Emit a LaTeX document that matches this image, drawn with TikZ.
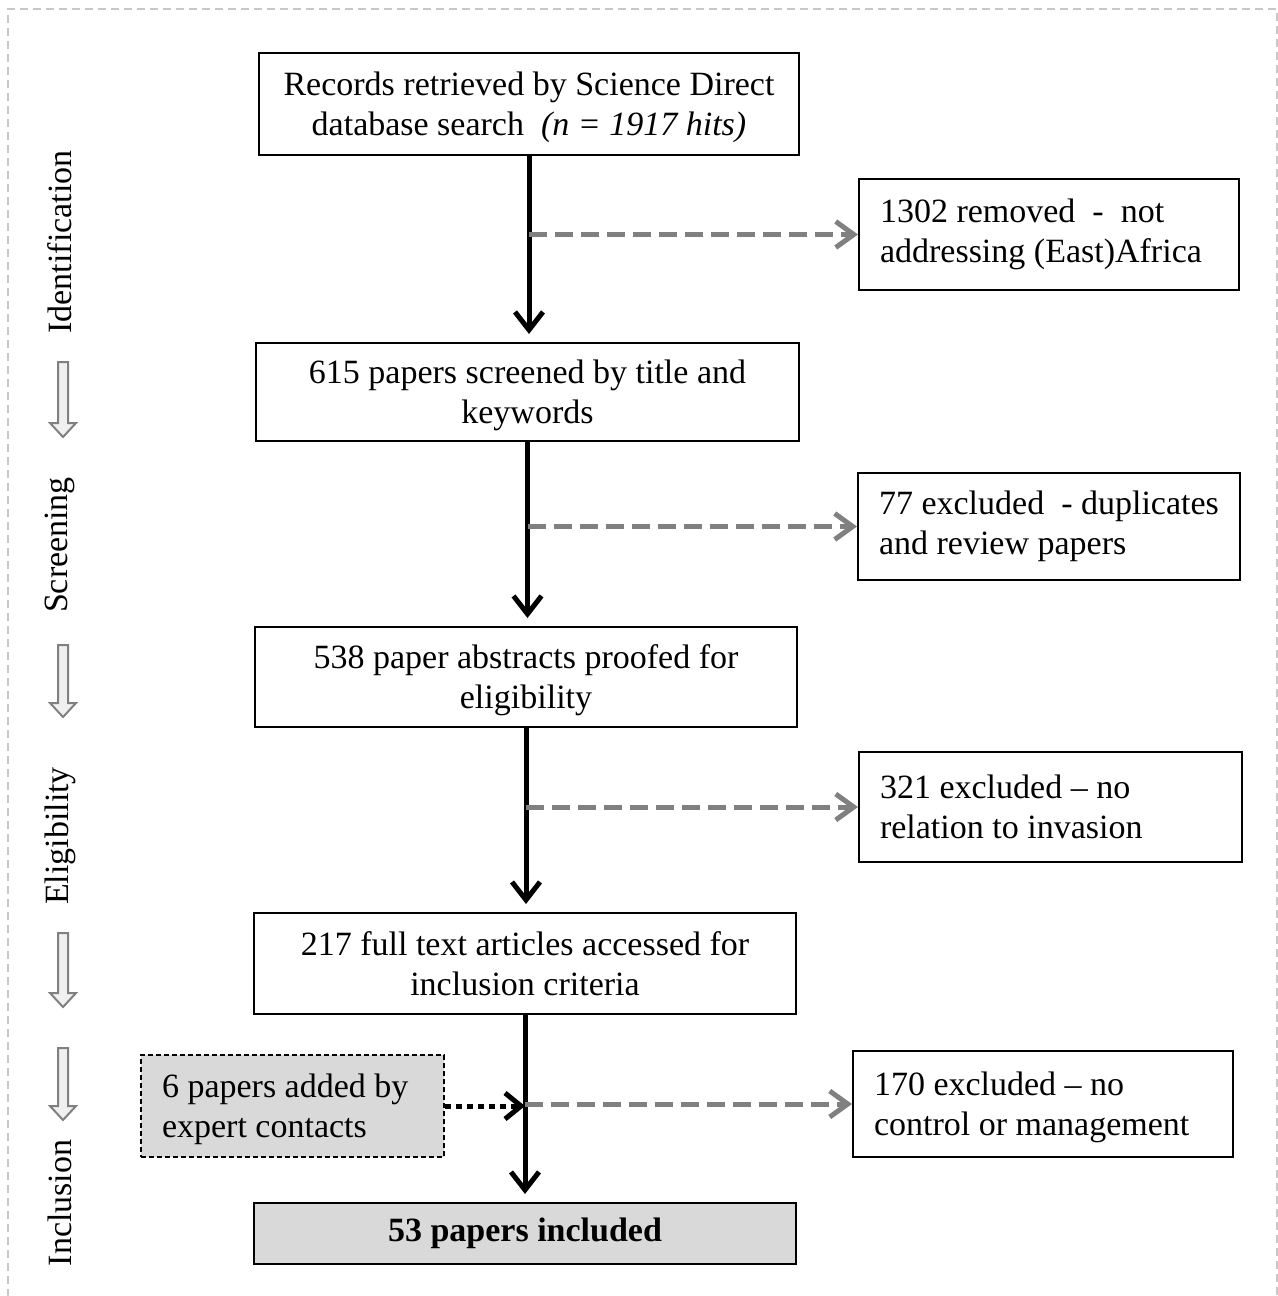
\documentclass[tikz,border=0pt]{standalone}
\usepackage{fontspec}
\setmainfont{Liberation Serif}
\usetikzlibrary{arrows.meta}
\definecolor{boxgrey}{HTML}{D9D9D9}
\definecolor{flowgrey}{HTML}{808080}
\definecolor{framegrey}{HTML}{C8C8C8}
\definecolor{hollowfill}{HTML}{F0F0F0}
\newcommand\lowerby{\rule{0pt}{15.5pt}}
\begin{document}
\begin{tikzpicture}[x=0.5pt,y=-0.5pt,
  every node/.style={font=\fontsize{17}{20}\selectfont},
  mainbox/.style={draw,line width=1pt,rectangle,align=center,inner sep=0pt},
  sidebox/.style={draw,line width=1pt,rectangle,align=flush left,inner xsep=10.5pt,inner ysep=0pt},
  mainflow/.style={line width=2.5pt,-{Straight Barb[length=9pt,width=14pt]},shorten >=4pt},
  sideflow/.style={draw=flowgrey,line width=2.5pt,dash pattern=on 9pt off 4pt,-{Straight Barb[length=9pt,width=13pt]}},
  addflow/.style={line width=2.5pt,dash pattern=on 3pt off 2.5pt,-{Straight Barb[length=8pt,width=13pt]}},
  hollow/.style={draw=flowgrey,fill=hollowfill,line width=1pt,line join=miter},
  phase/.style={rotate=90}]
\useasboundingbox (0,0) rectangle (1278,1296);
\draw[framegrey,line width=1pt,dash pattern=on 4pt off 2.5pt] (8,1310) -- (8,9) -- (1277,9) -- (1277,1310);

% main column
\node[mainbox,minimum width=270pt,minimum height=51pt] (b1) at (529,104)
  {\lowerby Records retrieved by Science Direct\\database search \ \textit{(n = 1917 hits)}};
\node[mainbox,minimum width=271.5pt,minimum height=49pt] (b3) at (527.5,392)
  {\lowerby 615 papers screened by title and\\keywords};
\node[mainbox,minimum width=271pt,minimum height=50pt] (b5) at (526,677)
  {\lowerby 538 paper abstracts proofed for\\eligibility};
\node[mainbox,minimum width=271pt,minimum height=50.5pt] (b7) at (525,963.5)
  {217 full text articles accessed for\\inclusion criteria};
\node[mainbox,fill=boxgrey,minimum width=271pt,minimum height=30.5pt,font=\fontsize{17}{20}\selectfont\bfseries] (b10) at (525,1233.5)
  {53 papers included};

% side boxes
\node[sidebox,text width=169pt,minimum height=55.5pt] (r1) at (1049,234.5)
  {1302 removed \ - \ not\\addressing (East)Africa};
\node[sidebox,text width=170pt,minimum height=53.5pt] (r2) at (1049,526.5)
  {77 excluded \ - duplicates\\and review papers};
\node[sidebox,text width=170.5pt,minimum height=55pt] (r3) at (1050.5,807)
  {321 excluded -- no\\relation to invasion};
\node[sidebox,text width=169pt,minimum height=53pt] (r4) at (1043,1104)
  {\lowerby 170 excluded -- no\\control or management};
\node[sidebox,fill=boxgrey,line width=0.75pt,dash pattern=on 2.5pt off 1.5pt,text width=130.5pt,minimum height=51pt] (b8) at (292.5,1106)
  {\lowerby 6 papers added by\\expert contacts};

% main flow
\draw[mainflow] (b1.south) -- (b1.south |- b3.north);
\draw[mainflow] (b3.south) -- (b3.south |- b5.north);
\draw[mainflow] (b5.south) -- (b5.south |- b7.north);
\draw[mainflow] (b7.south) -- (b7.south |- b10.north);

% exclusions
\draw[sideflow] (b1.south |- r1.west) -- (r1.west);
\draw[sideflow] (b3.south |- r2.west) -- (r2.west);
\draw[sideflow] (b5.south |- r3.west) -- (r3.west);
\draw[sideflow] (b7.south |- r4.west) -- (r4.west);
\draw[addflow] (b8.east) -- (b7.south |- b8.east);

% phase labels
\node[phase] (pid) at (60,242) {Identification};
\node[phase] (psc) at (60,545) {Screening};
\node[phase] (pel) at (60,836) {Eligibility};
\node[phase] (pin) at (60,1203) {Inclusion};

% hollow arrows
\foreach \yt/\yb in {362/437,645/717,933/1007,1048/1120}{
  \draw[hollow] (58,\yt) -- (68,\yt) -- (68,\yb-14) -- (76,\yb-14) -- (63,\yb) -- (50,\yb-14) -- (58,\yb-14) -- cycle;
}
\end{tikzpicture}
\end{document}
